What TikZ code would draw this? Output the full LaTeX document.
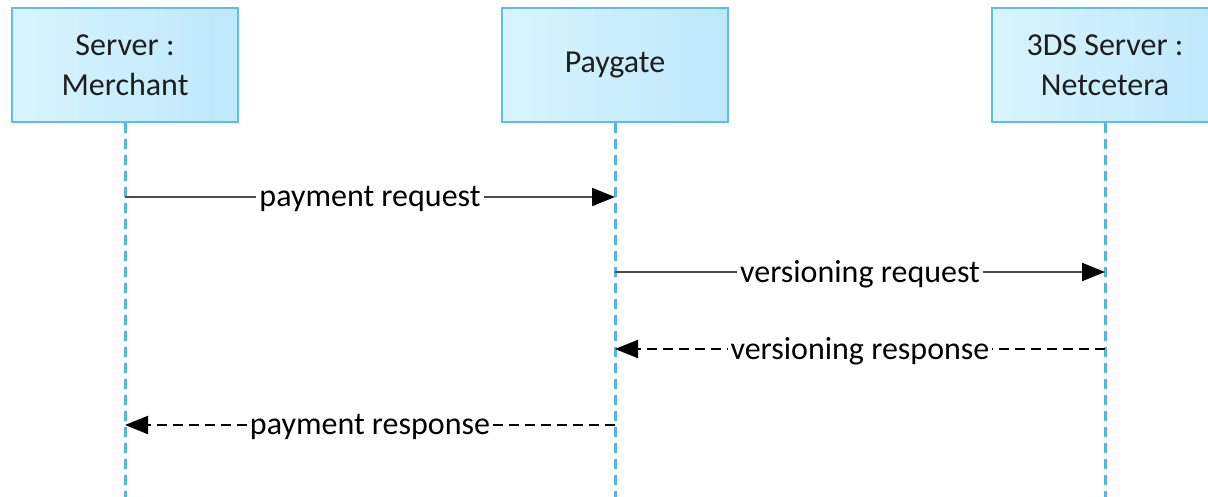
\documentclass[tikz,border=0pt]{standalone}
\usepackage{fontspec}
\setmainfont{Carlito}
\usetikzlibrary{positioning,arrows.meta}
\definecolor{boxline}{HTML}{5CBFE8}
\definecolor{boxleft}{HTML}{D8F4FE}
\definecolor{boxright}{HTML}{BEE8FB}
\definecolor{boxtext}{HTML}{1E1E1E}
\definecolor{lifeblue}{HTML}{4DB8E6}

\begin{document}
\begin{tikzpicture}[x=0.5pt,y=-0.5pt,node distance=245pt,on grid,
    font=\fontsize{16}{20}\selectfont]

    \tikzset{lifebox/.style={draw=boxline,line width=1pt,left color=boxleft,right color=boxright,
        minimum width=113pt,minimum height=57pt,align=center,text=boxtext},
      lifeline/.style={draw=lifeblue,line width=1.5pt,dash pattern=on 5pt off 3pt},
      msg/.style={-{Triangle[length=11.5pt,width=9pt,color=black]},line width=1pt,black!70},
      reply/.style={msg,black,dash pattern=on 5pt off 3pt},
      lbl/.style={fill=white,inner sep=1.5pt,text=black,yshift=-1pt}}
    \useasboundingbox (0,0) rectangle (1208,497);
    \clip (0,0) rectangle (1208,497);

    % participants
    \node[lifebox] (merchant) at (125,65) {Server :\\Merchant};
    \node[lifebox] (paygate) [right = of merchant] {Paygate};
    \node[lifebox] (netcetera) [right = of paygate] {3DS Server :\\Netcetera};

    % lifelines
    \coordinate (merchantEnd) at (merchant |- 0,497);
    \coordinate (paygateEnd) at (paygate |- 0,497);
    \coordinate (netceteraEnd) at (netcetera |- 0,497);
    \draw[lifeline] (merchant.south) -- (merchantEnd);
    \draw[lifeline] (paygate.south) -- (paygateEnd);
    \draw[lifeline] (netcetera.south) -- (netceteraEnd);

    % message points
    \coordinate (m1) at (merchant |- 0,197);
    \coordinate (p1) at (paygate |- 0,197);
    \coordinate (p2) at (paygate |- 0,272);
    \coordinate (n2) at (netcetera |- 0,272);
    \coordinate (n3) at (netcetera |- 0,349);
    \coordinate (p3) at (paygate |- 0,349);
    \coordinate (p4) at (paygate |- 0,425);
    \coordinate (m4) at (merchant |- 0,425);

    \path
    (m1)
    edge [msg] node [lbl] {payment request} (p1)
    (p2)
    edge [msg] node [lbl] {versioning request} (n2)
    (n3)
    edge [reply] node [lbl] {versioning response} (p3)
    (p4)
    edge [reply] node [lbl] {payment response} (m4)
    ;
  \end{tikzpicture}
\end{document}
